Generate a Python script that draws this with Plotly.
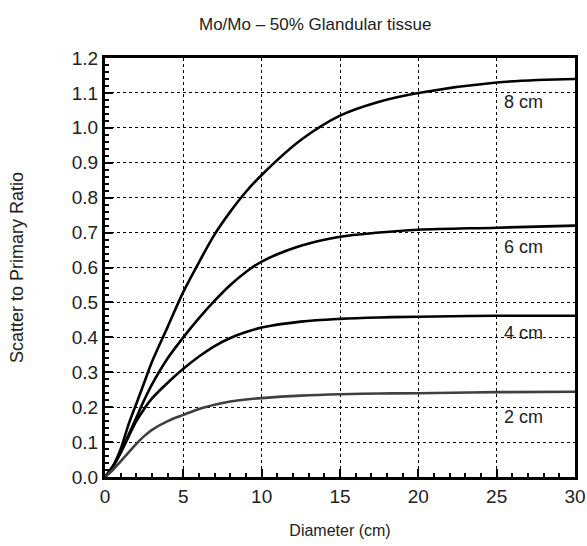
import plotly.graph_objects as go

diameter = [0, 0.5, 1, 1.5, 2, 2.5, 3, 4, 5, 6, 7, 8, 9, 10, 12.5, 15, 17.5, 20, 25, 30]
spr_8cm = [0, 0.03, 0.08, 0.15, 0.21, 0.27, 0.33, 0.43, 0.53, 0.615, 0.695, 0.76, 0.817, 0.865, 0.965, 1.035, 1.075, 1.10, 1.13, 1.14]
spr_6cm = [0, 0.03, 0.07, 0.12, 0.17, 0.22, 0.265, 0.34, 0.40, 0.455, 0.505, 0.55, 0.587, 0.617, 0.662, 0.688, 0.70, 0.708, 0.714, 0.72]
spr_4cm = [0, 0.03, 0.07, 0.115, 0.16, 0.195, 0.225, 0.27, 0.31, 0.345, 0.375, 0.398, 0.415, 0.428, 0.445, 0.453, 0.457, 0.459, 0.462, 0.462]
spr_2cm = [0, 0.02, 0.045, 0.07, 0.095, 0.117, 0.135, 0.16, 0.178, 0.195, 0.207, 0.216, 0.222, 0.226, 0.233, 0.237, 0.239, 0.240, 0.243, 0.244]

labels = ["8 cm", "6 cm", "4 cm", "2 cm"]
label_x = [26.7, 26.7, 26.7, 26.7]
label_y = [1.075, 0.66, 0.413, 0.172]

series = [spr_8cm, spr_6cm, spr_4cm, spr_2cm]
colors = ["#000000", "#000000", "#000000", "#404040"]

title_text = "Mo/Mo – 50% Glandular tissue"
font_family = "Liberation Sans, Arial, sans-serif"

fig = go.Figure()
for ys, c in zip(series, colors):
    fig.add_trace(go.Scatter(x=diameter, y=ys, mode="lines",
                             line=dict(color=c, width=2.6, shape="spline", smoothing=1.0),
                             showlegend=False, hoverinfo="skip"))

for t, lx, ly in zip(labels, label_x, label_y):
    fig.add_annotation(x=lx, y=ly, text=t, showarrow=False,
                       font=dict(size=18, color="#222"), xanchor="center", yanchor="middle")

fig.add_annotation(x=(315 - 105) / 470, y=1 + 34 / 419, xref="paper", yref="paper",
                   xanchor="center", yanchor="middle", text=title_text, showarrow=False,
                   font=dict(size=17, color="#222"))

fig.update_layout(
    width=587, height=546,
    margin=dict(l=105, r=12, t=58, b=69, autoexpand=False),
    paper_bgcolor="white", plot_bgcolor="white",
    font=dict(family=font_family, color="#222"),
)

fig.update_xaxes(
    range=[0, 30], tickvals=[0, 5, 10, 15, 20, 25, 30], ticktext=["0", "5", "10", "15", "20", "25", "30"],
    automargin=False,
    showline=True, linewidth=3, linecolor="black", mirror=True,
    ticks="inside", ticklen=8, tickwidth=1.5, tickcolor="black",
    minor=dict(dtick=1, ticks="inside", ticklen=4, tickcolor="black", showgrid=False),
    showgrid=True, gridcolor="black", gridwidth=1, griddash="dot",
    zeroline=False, tickfont=dict(size=19, color="#222"),
    title=dict(text="Diameter (cm)", font=dict(size=16, color="#222"), standoff=20),
)
fig.update_yaxes(
    range=[0, 1.2], tickvals=[i / 10 for i in range(13)], ticktext=[f"{i/10:.1f}" for i in range(13)],
    automargin=False,
    showline=True, linewidth=3, linecolor="black", mirror=True,
    ticks="inside", ticklen=8, tickwidth=1.5, tickcolor="black",
    minor=dict(dtick=0.02, ticks="inside", ticklen=4, tickcolor="black", showgrid=False),
    showgrid=True, gridcolor="black", gridwidth=1, griddash="dot",
    zeroline=False, tickfont=dict(size=19, color="#222"),
    title=dict(text="Scatter to Primary Ratio", font=dict(size=18, color="#222"), standoff=44),
)

fig.write_html("out.html", config={"displayModeBar": False},
               post_script="document.body.style.margin='0';document.body.style.overflow='hidden';")
